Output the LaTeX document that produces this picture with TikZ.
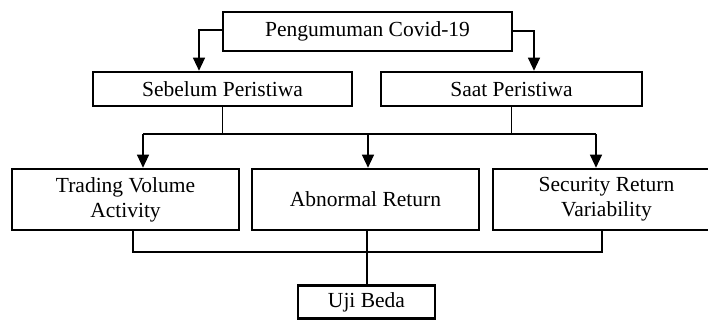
\documentclass[tikz,border=0pt]{standalone}
\usepackage{fontspec}
\setmainfont{Liberation Serif}
\usetikzlibrary{arrows.meta}
\begin{document}
\begin{tikzpicture}[x=1pt,y=-1pt,
  box/.style={draw, line width=2.6pt, inner sep=0pt, align=center,
    font=\fontsize{21.5}{25}\selectfont},
  conn/.style={draw, line width=1.2pt},
  arr/.style={conn, -{Triangle[length=13pt,width=12pt]}}]
\useasboundingbox (0,0) rectangle (708,320);
\fill[white] (0,0) rectangle (708,320);
\node[box, minimum width=289pt, minimum height=39pt] (top) at (367.5,31.5) {Pengumuman Covid-19};
\node[box, minimum width=259pt, minimum height=34pt] (seb) at (222.5,89) {Sebelum Peristiwa};
\node[box, minimum width=261pt, minimum height=34pt] (saat) at (511.5,89) {Saat Peristiwa};
\node[box, minimum width=227pt, minimum height=61pt] (tva) at (125.5,199.5) {Trading Volume\\Activity};
\node[box, minimum width=227pt, minimum height=61pt] (ar) at (365.5,199.5) {Abnormal Return};
\node[box, minimum width=227pt, minimum height=61pt] (srv) at (606.5,199.5) {Security Return\\Variability};
\node[box, minimum width=137pt, minimum height=33pt] (uji) at (366.5,302) {Uji Beda};
\coordinate (b1) at (143,134);
\coordinate (b2) at (368,134);
\coordinate (b3) at (596,134);
\coordinate (c1) at (133,252);
\coordinate (c2) at (367,252);
\coordinate (c3) at (602,252);
\draw[arr] ([yshift=1.5pt]top.west) -| ([xshift=-23.5pt]seb.north);
\draw[arr] ([yshift=0.5pt]top.east) -| ([xshift=22.5pt]saat.north);
\draw[conn] (seb.south) -- (seb.south |- b1);
\draw[conn] (saat.south) -- (saat.south |- b1);
\draw[conn] (b1) -- (b3);
\draw[arr] (b1) -- (b1 |- tva.north);
\draw[arr] (b2) -- (b2 |- ar.north);
\draw[arr] (b3) -- (b3 |- srv.north);
\draw[conn] (c1 |- tva.south) -- (c1) -- (c3) -- (c3 |- srv.south);
\draw[conn] (c2 |- ar.south) -- (c2 |- uji.north);
\end{tikzpicture}
\end{document}
